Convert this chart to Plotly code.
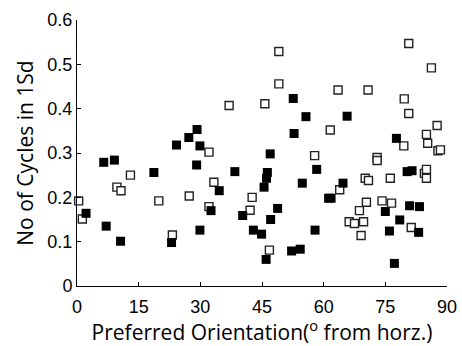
import plotly.graph_objects as go

# Filled squares (x: preferred orientation deg, y: cycles in 1 SD)
filled_x = [2.2, 6.5, 7.1, 9.1, 10.6, 18.7, 23.0, 24.2, 27.2, 29.2, 29.1, 29.9, 29.9,
            32.6, 34.6, 38.4, 40.3, 42.9, 44.9, 45.5, 46.1, 46.3, 47.0, 47.1, 48.8,
            46.0, 52.2, 54.3, 52.6, 55.7, 52.8, 54.8, 57.9, 58.3, 61.2, 61.8, 64.7,
            65.7, 75.0, 76.0, 77.2, 77.7, 78.5, 80.3, 81.5, 80.9, 83.3, 83.1]
filled_y = [0.164, 0.279, 0.135, 0.284, 0.101, 0.256, 0.098, 0.318, 0.335, 0.353, 0.273, 0.316, 0.126,
            0.170, 0.215, 0.258, 0.159, 0.126, 0.117, 0.223, 0.243, 0.256, 0.298, 0.150, 0.175,
            0.060, 0.079, 0.083, 0.423, 0.382, 0.344, 0.232, 0.126, 0.263, 0.198, 0.198, 0.232,
            0.383, 0.168, 0.124, 0.051, 0.333, 0.149, 0.258, 0.260, 0.181, 0.179, 0.121]

# Open squares
open_x = [0.4, 1.3, 9.7, 10.7, 13.0, 19.9, 23.2, 27.3, 32.1, 32.1, 33.3, 37.0, 42.1,
          42.6, 45.7, 46.8, 49.1, 49.1, 57.8, 61.6, 63.5, 63.9, 66.2, 67.5, 68.7, 69.1,
          69.7, 70.1, 70.4, 70.8, 70.9, 73.0, 73.0, 74.2, 76.2, 76.5, 79.5, 79.6, 80.7,
          80.7, 81.3, 84.5, 85.0, 85.0, 85.0, 85.3, 86.2, 87.6, 87.8, 88.4]
open_y = [0.192, 0.151, 0.223, 0.215, 0.250, 0.192, 0.115, 0.203, 0.302, 0.179, 0.234, 0.407, 0.171,
          0.200, 0.411, 0.081, 0.529, 0.456, 0.294, 0.352, 0.442, 0.217, 0.145, 0.141, 0.170, 0.114,
          0.145, 0.243, 0.189, 0.442, 0.238, 0.290, 0.283, 0.192, 0.243, 0.187, 0.316, 0.422, 0.547,
          0.389, 0.132, 0.254, 0.263, 0.243, 0.342, 0.322, 0.492, 0.362, 0.305, 0.307]

x_ticks = [0, 15, 30, 45, 60, 75, 90]
y_ticks = [0, 0.1, 0.2, 0.3, 0.4, 0.5, 0.6]
y_tick_text = ["0", "0.1", "0.2", "0.3", "0.4", "0.5", "0.6"]

fig = go.Figure()
fig.add_trace(go.Scatter(
    x=open_x, y=open_y, mode="markers", cliponaxis=False,
    marker=dict(symbol="square", size=8, color="white",
                line=dict(color="#222222", width=1.4)),
    showlegend=False))
fig.add_trace(go.Scatter(
    x=filled_x, y=filled_y, mode="markers", cliponaxis=False,
    marker=dict(symbol="square", size=9, color="black",
                line=dict(color="black", width=0)),
    showlegend=False))

tick_family = "Liberation Sans, Arial, sans-serif"
title_family = "Open Sans, Liberation Sans, sans-serif"
fig.update_layout(
    width=462, height=346,
    margin=dict(l=77, r=15, t=20, b=60),
    paper_bgcolor="white", plot_bgcolor="white",
    font=dict(family=tick_family, size=18, color="black"),
)
fig.update_xaxes(
    range=[0, 90], tickvals=x_ticks, ticktext=[str(v) for v in x_ticks],
    showline=True, linecolor="black", linewidth=1, mirror=False,
    ticks="inside", ticklen=4, tickcolor="black", showgrid=False, zeroline=False,
    ticklabelstandoff=4, automargin=False,
    title=dict(text="Preferred Orientation(<sup>o</sup> from horz.)", standoff=14,
               font=dict(size=21, family=title_family)),
    tickfont=dict(size=18),
)
fig.update_yaxes(
    range=[0, 0.6], tickvals=y_ticks, ticktext=y_tick_text,
    showline=True, linecolor="black", linewidth=1, mirror=False,
    ticks="inside", ticklen=4, tickcolor="black", showgrid=False, zeroline=False,
    automargin=False,
    title=dict(text="No of Cycles in 1Sd", standoff=8,
               font=dict(size=21, family=title_family)),
    tickfont=dict(size=18),
)

fig.write_html("out.html")
